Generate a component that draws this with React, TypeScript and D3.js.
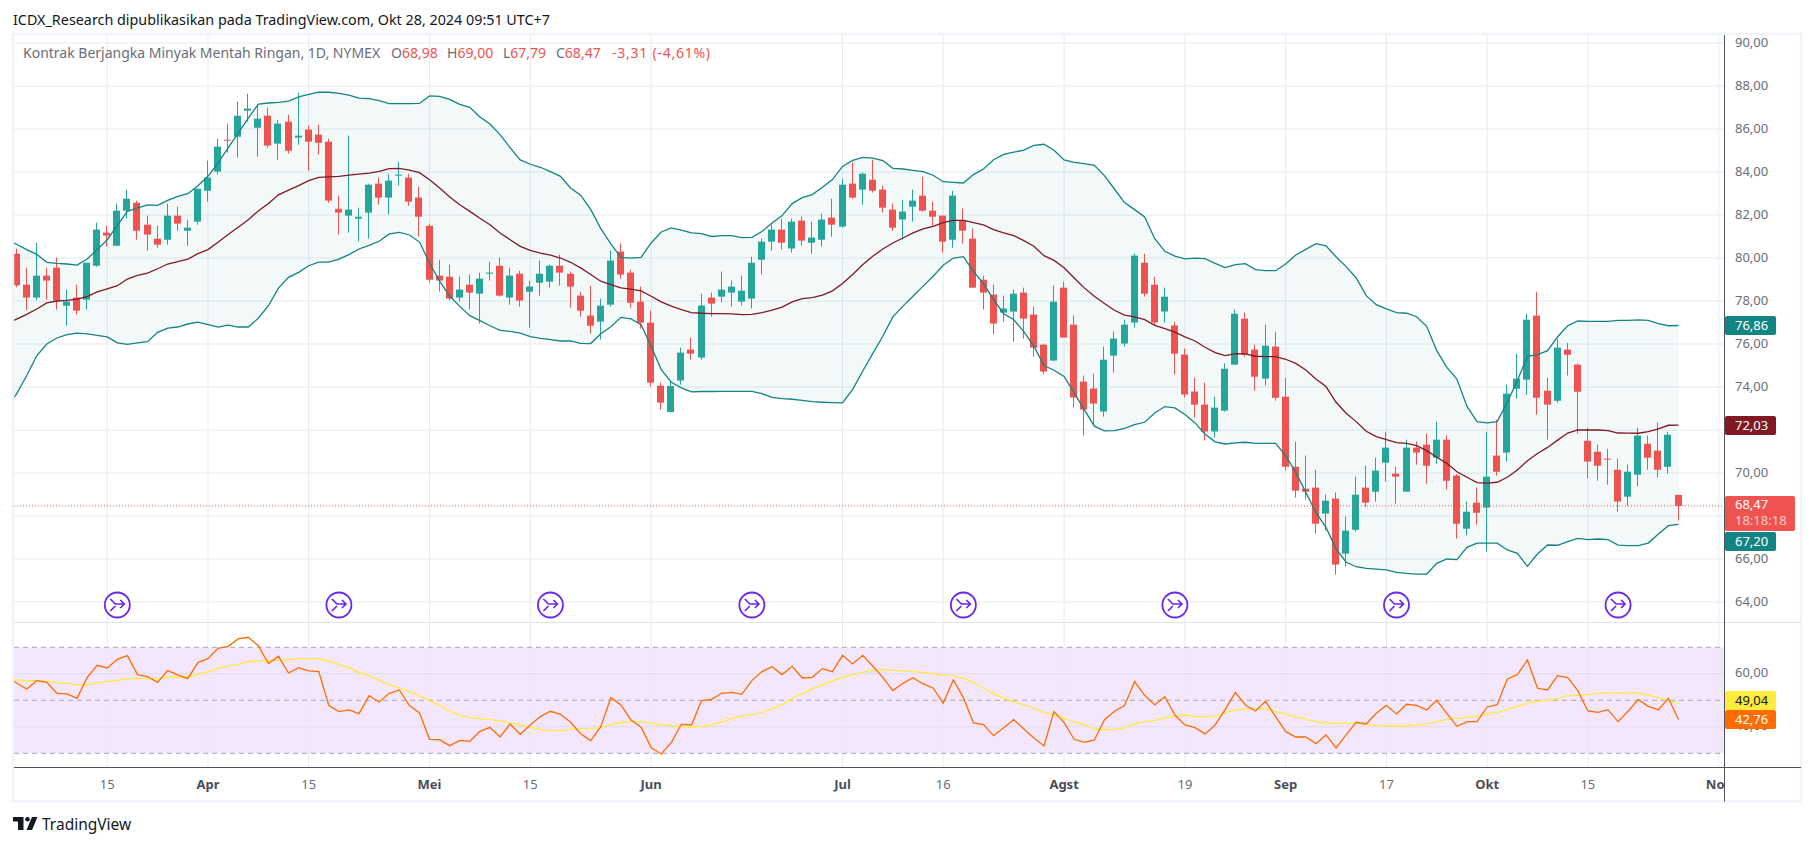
import React, { useEffect, useRef } from 'react';
import * as d3 from 'd3';

// daily bars
const opens = [
  80.20,78.76,78.16,79.18,79.55,77.78,78.16,78.06,79.64,81.18,80.57,82.20,82.57,81.55,80.90,80.85,81.97,81.27,81.69,83.13,
  84.02,85.50,85.64,86.85,86.06,86.62,85.32,86.34,85.60,85.97,85.74,85.41,82.29,81.97,81.83,82.11,83.46,82.81,83.83,83.74,
  82.81,81.50,79.18,79.13,78.16,78.76,78.34,79.27,79.64,78.16,79.27,78.43,78.85,78.90,79.64,79.27,78.25,77.32,77.04,77.83,
  80.30,79.32,77.97,76.99,74.06,72.84,74.30,75.74,75.37,78.16,78.20,78.39,77.97,78.11,79.92,80.76,81.32,80.44,81.74,80.71,
  80.85,81.88,81.46,83.46,83.18,83.64,83.18,82.25,81.79,82.39,82.90,82.20,81.97,80.85,81.74,80.90,78.99,78.30,77.46,77.51,
  78.39,77.37,75.97,75.23,78.62,76.90,74.25,73.93,72.86,75.46,76.02,77.00,79.78,78.76,77.51,76.86,75.51,73.79,73.18,71.93,
  72.90,75.04,77.18,75.74,74.39,75.88,73.55,70.29,69.27,69.32,68.11,68.81,66.25,67.36,69.32,69.13,70.48,69.97,69.13,71.18,
  71.32,70.71,71.55,69.88,67.41,68.62,68.39,70.81,70.95,73.92,74.34,77.32,73.83,73.36,75.74,75.04,71.50,70.99,70.67,70.15,
  68.90,69.92,71.36,71.04,70.29,68.98,
];
const highs = [
  80.43,79.55,80.70,79.55,80.02,78.53,78.76,79.78,81.64,81.50,82.53,83.18,82.67,81.97,81.50,82.53,82.39,81.78,83.22,84.53,
  85.55,86.25,87.27,87.64,87.13,86.99,86.43,86.67,87.69,86.16,86.20,85.55,82.90,85.69,82.34,83.46,83.74,83.88,84.48,83.92,
  83.32,81.60,79.92,79.69,79.13,79.23,79.32,79.83,80.02,79.55,79.41,78.95,79.88,79.69,80.16,79.36,78.43,78.71,78.11,80.34,
  80.67,79.46,78.67,77.55,74.20,74.28,75.83,76.30,78.34,78.39,79.37,78.95,79.18,80.06,80.90,81.55,81.83,81.83,81.93,81.69,
  82.06,82.76,83.69,84.44,83.97,84.57,83.37,82.53,82.71,83.18,83.78,82.62,81.97,83.13,82.30,81.37,79.18,78.76,78.25,78.53,
  78.62,77.74,76.02,78.72,78.90,77.32,74.53,74.62,75.88,76.58,77.13,80.20,80.20,79.13,78.62,77.04,75.79,74.44,74.20,73.55,
  75.09,77.60,77.46,75.97,76.90,76.57,74.43,71.46,70.81,70.15,68.99,69.09,67.97,69.83,70.34,70.71,71.92,70.29,71.55,71.46,
  71.83,72.39,71.74,69.95,68.67,69.32,71.92,72.48,74.11,75.55,77.41,78.43,74.43,76.25,76.06,75.09,72.11,71.32,71.13,70.67,
  70.39,72.11,71.74,72.34,71.92,69.00,
];
const lows = [
  78.64,77.57,78.03,78.06,77.60,76.85,77.37,77.60,79.59,80.53,80.57,81.83,80.85,80.34,80.48,80.62,81.27,80.57,81.55,82.62,
  83.88,84.90,84.67,86.34,84.71,85.13,84.57,84.85,85.27,84.06,84.81,82.57,81.09,81.18,80.76,80.90,82.48,82.02,83.37,82.43,
  81.00,78.85,78.43,78.02,77.97,77.60,76.95,78.95,78.20,77.83,77.74,76.76,78.25,78.62,78.71,77.69,77.27,76.48,76.20,77.74,
  79.04,77.69,76.71,74.02,72.95,72.80,74.11,75.27,75.27,77.27,77.93,77.74,77.79,77.65,79.23,80.34,80.39,80.25,80.58,80.20,
  80.53,80.99,81.41,82.76,82.48,83.04,82.11,81.27,80.85,81.69,82.16,81.51,80.25,80.48,80.67,78.62,77.60,76.44,77.04,76.11,
  76.25,75.41,74.62,75.23,76.30,73.04,71.74,72.25,72.62,74.67,75.88,76.76,78.20,76.86,77.00,74.58,73.51,72.58,71.51,71.65,
  72.85,75.04,75.41,73.83,74.06,73.36,70.11,68.85,68.76,67.18,67.32,65.27,65.64,67.27,68.43,68.67,69.60,68.57,69.13,70.39,
  69.50,70.43,69.22,66.95,67.09,67.60,66.34,69.88,70.53,73.46,73.64,72.71,71.55,73.27,74.53,71.83,69.74,69.64,69.46,68.20,
  68.48,69.39,70.15,69.78,69.97,67.79,
];
const closes = [
  78.73,78.16,79.18,78.95,78.02,77.97,77.55,79.78,81.32,81.04,82.20,82.76,81.27,81.09,80.62,81.97,81.60,81.41,83.22,83.74,
  85.18,85.46,86.62,86.95,86.48,85.23,86.25,84.99,85.69,85.41,85.36,82.67,82.11,82.25,81.92,83.41,82.81,83.60,83.88,82.62,
  81.92,78.99,78.95,78.11,78.53,78.39,79.04,79.32,78.25,79.18,78.02,78.67,79.27,79.64,79.32,78.67,77.55,76.85,77.78,79.88,
  79.23,77.92,76.99,74.20,73.27,74.05,75.60,75.55,77.79,77.88,78.53,78.67,78.48,79.78,80.76,81.32,80.71,81.69,80.81,80.95,
  81.79,81.55,83.41,82.81,83.92,83.13,82.34,81.41,82.16,82.67,82.20,81.92,80.76,82.90,81.27,78.62,78.39,76.95,77.65,78.34,
  77.18,75.83,74.72,77.97,76.30,73.51,72.95,73.23,75.27,76.25,76.90,80.11,78.34,77.00,78.20,75.55,73.65,73.18,71.93,73.04,
  74.85,77.41,75.50,74.48,75.92,73.50,70.29,69.18,69.13,67.64,68.71,65.74,67.32,68.99,68.62,70.11,71.18,69.83,71.18,70.95,
  70.34,71.55,69.64,67.64,68.20,68.15,69.83,70.06,73.69,74.39,77.13,73.50,73.18,75.83,75.50,73.78,70.53,70.34,70.62,68.67,
  70.06,71.74,70.71,70.15,71.78,68.47,
];

// bollinger bands, the first value belongs to the bar just left of the plot
const bbUpper = [
  80.88,
  80.64,80.39,80.17,79.80,79.75,79.72,79.67,79.95,80.39,80.85,81.52,82.17,82.33,82.47,82.45,82.68,82.87,82.99,83.36,83.80,
  84.42,85.12,85.81,86.51,87.16,87.21,87.24,87.30,87.49,87.61,87.71,87.71,87.66,87.58,87.44,87.41,87.32,87.18,87.18,87.18,
  87.19,87.54,87.52,87.38,87.15,87.01,86.56,86.23,85.74,85.13,84.56,84.36,84.22,84.02,83.80,83.26,82.92,82.26,81.37,80.66,
  80.03,79.99,80.03,80.70,81.21,81.40,81.30,81.17,81.13,81.00,81.04,81.04,80.95,80.96,81.23,81.63,81.97,82.53,82.81,82.95,
  83.29,83.65,84.26,84.54,84.68,84.65,84.53,84.17,84.14,84.08,84.02,83.85,83.55,83.52,83.49,83.88,84.14,84.57,84.82,84.92,
  85.02,85.24,85.29,85.01,84.56,84.45,84.39,84.31,83.83,83.21,82.58,82.25,81.91,80.90,80.31,80.09,79.96,79.99,79.97,79.75,
  79.55,79.69,79.74,79.46,79.41,79.41,79.72,80.14,80.40,80.67,80.57,80.06,79.60,79.07,78.25,77.83,77.63,77.46,77.43,77.27,
  76.82,75.69,74.91,74.37,73.10,72.39,72.33,72.39,73.29,74.30,75.43,75.51,75.69,76.34,76.85,77.07,77.05,77.05,77.05,77.10,
  77.10,77.12,77.10,76.95,76.85,76.86,
];
const bbBasis = [
  76.93,
  77.16,77.38,77.63,77.91,78.00,78.03,78.09,78.20,78.42,78.56,78.71,79.02,79.19,79.30,79.50,79.72,79.83,79.95,80.20,80.39,
  80.73,81.09,81.43,81.78,82.19,82.53,82.94,83.16,83.37,83.60,83.75,83.77,83.80,83.85,83.90,83.95,84.03,84.16,84.17,84.09,
  83.97,83.64,83.26,82.84,82.48,82.17,81.85,81.55,81.16,80.85,80.54,80.36,80.23,80.13,80.00,79.80,79.54,79.23,78.92,78.76,
  78.61,78.55,78.47,78.22,77.96,77.76,77.60,77.46,77.43,77.41,77.41,77.40,77.37,77.38,77.46,77.58,77.72,77.96,78.11,78.16,
  78.27,78.47,78.81,79.23,79.69,80.08,80.42,80.70,80.93,81.17,81.35,81.47,81.65,81.75,81.75,81.65,81.54,81.32,81.17,81.04,
  80.81,80.55,80.11,79.89,79.55,79.07,78.61,78.22,77.88,77.57,77.34,77.26,77.13,76.87,76.72,76.55,76.33,76.14,75.85,75.60,
  75.46,75.55,75.54,75.43,75.41,75.41,75.29,75.10,74.79,74.37,74.02,73.29,72.78,72.39,71.94,71.69,71.55,71.41,71.38,71.27,
  71.04,70.73,70.45,70.06,69.80,69.55,69.53,69.57,69.80,70.14,70.57,70.91,71.19,71.53,71.86,72.00,72.00,72.00,71.97,71.86,
  71.85,71.85,71.92,72.05,72.22,72.23,
];
const bbLower = [
  73.03,
  73.68,74.52,75.45,76.00,76.28,76.44,76.51,76.47,76.40,76.33,76.05,75.98,76.05,76.11,76.54,76.74,76.79,76.93,77.02,76.90,
  76.79,76.88,76.79,76.79,77.20,77.78,78.60,79.10,79.33,79.64,79.81,79.81,79.95,80.16,80.42,80.59,80.78,81.12,81.19,81.07,
  80.74,79.77,78.92,78.22,77.75,77.32,77.09,76.85,76.63,76.59,76.51,76.34,76.26,76.20,76.14,76.14,76.03,76.02,76.48,76.80,
  77.24,77.17,76.90,75.90,74.81,74.22,73.96,73.77,73.79,73.79,73.80,73.80,73.80,73.80,73.69,73.52,73.46,73.43,73.38,73.32,
  73.29,73.27,73.26,73.88,74.73,75.55,76.36,77.26,77.76,78.22,78.69,79.15,79.66,80.00,80.06,79.38,78.81,78.06,77.41,77.13,
  76.58,75.90,75.00,74.78,74.49,73.73,72.95,72.18,71.96,71.97,72.08,72.25,72.36,72.79,73.09,73.03,72.72,72.33,71.80,71.45,
  71.35,71.40,71.43,71.38,71.38,71.38,70.81,70.03,69.10,68.17,67.47,66.47,65.85,65.64,65.56,65.53,65.49,65.38,65.33,65.30,
  65.30,65.80,66.00,65.97,66.54,66.74,66.74,66.74,66.42,66.26,65.66,66.23,66.65,66.64,66.81,66.96,66.90,66.93,66.90,66.65,
  66.62,66.62,66.74,67.16,67.55,67.61,
];

// rsi pane, same leading bar as the bands
const rsi = [
  59.05,
  56.54,54.28,57.42,56.79,52.64,52.39,50.75,58.55,63.21,62.20,65.47,66.85,59.69,58.93,56.79,61.19,59.56,58.17,64.21,65.72,
  69.62,70.38,73.14,73.77,70.63,63.84,66.60,60.31,62.33,61.07,60.82,47.99,45.72,46.35,44.97,51.76,49.37,52.64,53.90,47.99,
  45.22,35.28,35.15,32.89,34.90,34.53,38.30,39.81,36.16,41.07,37.17,40.69,43.84,45.85,44.72,41.70,37.33,34.78,40.06,51.00,
  48.24,42.58,39.81,32.14,29.75,34.02,40.94,40.69,49.87,50.37,52.64,53.02,52.26,57.42,60.82,62.70,59.69,62.83,58.43,58.68,
  61.95,60.82,66.98,63.71,66.98,62.95,58.68,53.65,56.41,58.55,56.16,54.65,48.87,57.67,51.00,41.44,40.82,36.66,39.68,42.70,
  39.18,35.78,32.76,45.72,41.57,35.28,34.15,35.03,42.58,45.85,47.99,57.04,51.88,48.24,51.38,44.46,40.69,39.68,37.33,40.69,
  46.60,53.02,48.24,45.97,49.62,43.84,38.17,36.16,36.16,33.65,36.92,32.01,36.92,41.70,41.07,45.09,48.11,44.84,48.49,48.11,
  46.35,50.00,45.09,40.19,41.95,41.95,47.48,48.36,58.05,59.69,65.22,54.53,53.90,59.31,58.55,53.65,45.97,45.47,46.48,41.95,
  45.85,50.25,47.73,46.48,50.75,42.76,
];
const rsiMa = [
  57.90,
  57.67,57.42,57.42,57.17,56.67,56.41,55.91,55.79,56.54,57.04,57.54,58.17,58.30,58.17,58.30,58.68,58.80,59.05,59.81,60.69,
  62.07,62.95,63.58,64.46,64.84,64.97,65.09,65.34,65.72,65.72,65.72,64.72,63.58,62.33,60.44,59.18,57.54,55.91,54.65,53.39,
  51.76,49.87,47.99,46.10,44.34,43.46,43.08,42.70,42.20,41.44,40.82,39.81,39.05,38.68,38.68,39.05,39.31,39.43,39.68,40.82,
  41.70,41.95,41.95,41.32,40.82,40.31,40.06,39.93,40.19,40.82,41.82,43.21,44.09,44.59,45.34,46.85,48.36,50.63,52.51,54.40,
  55.79,57.30,58.68,59.69,60.57,61.19,61.57,61.32,61.07,60.82,60.57,60.06,59.31,59.18,58.30,56.79,54.53,52.51,50.75,49.37,
  48.24,47.10,45.34,44.59,43.21,41.82,40.82,39.18,38.80,39.05,39.56,41.07,41.95,42.45,43.33,43.96,44.46,43.96,43.71,44.09,
  45.34,46.35,46.73,46.73,46.73,45.72,44.84,43.84,42.83,42.07,41.70,41.32,41.32,41.32,40.94,40.44,40.31,40.31,40.31,40.56,
  41.07,42.07,42.70,43.21,43.46,43.96,44.84,45.47,46.60,47.73,48.87,49.62,50.00,50.75,51.76,51.89,52.14,52.51,52.77,52.77,
  52.64,52.77,52.01,51.13,49.75,49.04,
];

const priceTicks = [90, 88, 86, 84, 82, 80, 78, 76, 74, 72, 70, 68, 66, 64];
// these two sit fully behind the value tags in the picture
const hiddenPriceLabels = [72, 68];
const rsiGridTicks = [60, 40];
const rsiLevels = [70, 50, 30];
const timeTickBars = [9, 19, 29, 41, 51, 63, 82, 92, 104, 116, 126, 136, 146, 156, 169];
const timeTickLabels = ['15', 'Apr', '15', 'Mei', '15', 'Jun', 'Jul', '16', 'Agst', '19', 'Sep', '17', 'Okt', '15', 'Nov'];
const monthLabels = ['Apr', 'Mei', 'Jun', 'Jul', 'Agst', 'Sep', 'Okt', 'Nov'];
const rollBars = [10, 32, 53, 73, 94, 115, 137, 159];

const titleText = 'ICDX_Research dipublikasikan pada TradingView.com, Okt 28, 2024 09:51 UTC+7';
const seriesName = 'Kontrak Berjangka Minyak Mentah Ringan, 1D, NYMEX';
const legendPairs = [['O', '68,98'], ['H', '69,00'], ['L', '67,79'], ['C', '68,47']];
const legendChange = '-3,31 (-4,61%)';

const width = 1814;
const height = 846;
const font = '"Noto Sans", sans-serif';
const plotLeft = 14;
const axisX = 1724.5;
const frameRight = 1801;
const paneSplit = 622.5;
const timeAxisY = 767.5;
const frameBottom = 801.5;

const green = '#26a69a';
const red = '#ef5350';
const bandColor = '#138484';
const basisColor = '#801922';
const gridColor = '#e4ebf1';

export default () => {
  const svgRef = useRef<SVGSVGElement>(null);

  useEffect(() => {
    if (!svgRef.current) {
      return;
    }
    const svg = d3.select(svgRef.current);
    svg.selectAll('*').remove();

    const x = d3.scaleLinear().domain([0, 165]).range([16.6, 1678.5]);
    const y = d3.scaleLinear().domain([90, 64]).range([43, 602]);
    const yRsi = d3.scaleLinear().domain([70, 30]).range([647.3, 753.3]);
    const bars = d3.range(closes.length);
    // index into the indicator arrays, bar -1 is the leading value
    const lineBars = d3.range(-1, closes.length);

    svg.append('rect').attr('width', width).attr('height', height).attr('fill', '#fff');

    svg.append('clipPath').attr('id', 'plot-clip')
      .append('rect')
      .attr('x', plotLeft)
      .attr('y', 35)
      .attr('width', axisX - plotLeft)
      .attr('height', timeAxisY - 35);

    // rsi band background goes under the grid
    svg.append('rect')
      .attr('x', plotLeft)
      .attr('y', yRsi(70))
      .attr('width', axisX - plotLeft)
      .attr('height', yRsi(30) - yRsi(70))
      .attr('fill', '#f4e6fd');

    const grid = svg.append('g').attr('stroke-width', 1);
    grid.selectAll('line.v')
      .data(timeTickBars)
      .enter()
      .append('line')
      .attr('x1', d => x(d))
      .attr('x2', d => x(d))
      .attr('y1', 35)
      .attr('y2', timeAxisY)
      .attr('stroke', gridColor);
    grid.selectAll('line.h')
      .data(priceTicks)
      .enter()
      .append('line')
      .attr('x1', plotLeft)
      .attr('x2', axisX)
      .attr('y1', d => y(d))
      .attr('y2', d => y(d))
      .attr('stroke', gridColor);
    grid.selectAll('line.r')
      .data(rsiGridTicks)
      .enter()
      .append('line')
      .attr('x1', plotLeft)
      .attr('x2', axisX)
      .attr('y1', d => yRsi(d))
      .attr('y2', d => yRsi(d))
      .attr('stroke', '#dfdcf0');

    svg.append('g').selectAll('line')
      .data(rsiLevels)
      .enter()
      .append('line')
      .attr('x1', plotLeft)
      .attr('x2', axisX)
      .attr('y1', d => yRsi(d))
      .attr('y2', d => yRsi(d))
      .attr('stroke', '#a9a7b2')
      .attr('stroke-dasharray', '5,4');

    const plot = svg.append('g').attr('clip-path', 'url(#plot-clip)');

    // bollinger
    const bandArea = d3.area<number>()
      .x(d => x(d))
      .y0(d => y(bbLower[d + 1]))
      .y1(d => y(bbUpper[d + 1]));
    plot.append('path').attr('d', bandArea(lineBars)).attr('fill', bandColor).attr('fill-opacity', 0.05);

    const drawLine = (
      values: number[],
      scale: d3.ScaleLinear<number, number>,
      color: string,
      strokeWidth = 1.3
    ) => {
      const line = d3.line<number>()
        .x(d => x(d))
        .y(d => scale(values[d + 1]));
      plot.append('path')
        .attr('d', line(lineBars))
        .attr('fill', 'none')
        .attr('stroke', color)
        .attr('stroke-width', strokeWidth);
    };

    // candles
    const candles = plot.append('g');
    candles.selectAll('line')
      .data(bars)
      .enter()
      .append('line')
      .attr('x1', d => Math.round(x(d)) - 0.5)
      .attr('x2', d => Math.round(x(d)) - 0.5)
      .attr('y1', d => y(highs[d]))
      .attr('y2', d => y(lows[d]))
      .attr('stroke', d => (closes[d] >= opens[d] ? green : red))
      .attr('stroke-width', 1);
    candles.selectAll('rect')
      .data(bars)
      .enter()
      .append('rect')
      .attr('x', d => Math.round(x(d)) - 4)
      .attr('width', 7)
      .attr('y', d => y(Math.max(opens[d], closes[d])))
      .attr('height', d => Math.max(1, Math.abs(y(opens[d]) - y(closes[d]))))
      .attr('fill', d => (closes[d] >= opens[d] ? green : red));

    drawLine(bbUpper, y, bandColor);
    drawLine(bbLower, y, bandColor);
    drawLine(bbBasis, y, basisColor);

    // last price line
    svg.append('line')
      .attr('x1', plotLeft)
      .attr('x2', axisX)
      .attr('y1', y(68.47))
      .attr('y2', y(68.47))
      .attr('stroke', red)
      .attr('stroke-dasharray', '1,2');

    // rsi
    drawLine(rsiMa, yRsi, '#ffeb3b');
    drawLine(rsi, yRsi, '#ff6d00');

    // contract roll markers
    const roll = svg.append('g').selectAll('g')
      .data(rollBars)
      .enter()
      .append('g')
      .attr('transform', d => `translate(${x(d)},605)`)
      .attr('fill', 'none')
      .attr('stroke', '#6a26f2');
    roll.append('circle').attr('r', 12.5).attr('fill', '#fff').attr('stroke-width', 1.8);
    roll.append('path')
      .attr('d', 'M-7,-6 L-2,-1 H7 M3,-5 L7,-1 L3,3 M-7,6 L-2,1')
      .attr('stroke-width', 1.7);

    // frame and axes
    svg.append('rect')
      .attr('x', 13)
      .attr('y', 34)
      .attr('width', frameRight - 13)
      .attr('height', frameBottom - 34)
      .attr('fill', 'none')
      .attr('stroke', '#f0f3fa')
      .attr('stroke-width', 2.5);
    svg.append('line')
      .attr('x1', plotLeft)
      .attr('x2', frameRight)
      .attr('y1', paneSplit)
      .attr('y2', paneSplit)
      .attr('stroke', '#e0e3eb');
    svg.append('line')
      .attr('x1', plotLeft)
      .attr('x2', frameRight)
      .attr('y1', timeAxisY)
      .attr('y2', timeAxisY)
      .attr('stroke', '#50535e');
    svg.append('line')
      .attr('x1', axisX)
      .attr('x2', axisX)
      .attr('y1', 35)
      .attr('y2', frameBottom)
      .attr('stroke', '#50535e');

    const textStyle = (sel: d3.Selection<SVGTextElement, any, any, any>, size = 13) => sel
      .attr('font-family', font)
      .attr('font-size', size);

    // price axis
    svg.append('g').selectAll('text')
      .data(priceTicks.filter(d => !hiddenPriceLabels.includes(d)))
      .enter()
      .append('text')
      .text(d => d3.format('.2f')(d).replace('.', ','))
      .attr('x', 1735)
      .attr('y', d => y(d) + 3.5)
      .attr('fill', '#6a6d78')
      .call(textStyle);
    svg.append('text')
      .text('60,00')
      .attr('x', 1735)
      .attr('y', yRsi(60) + 3.5)
      .attr('fill', '#6a6d78')
      .call(textStyle);
    svg.append('text')
      .text('40,00')
      .attr('x', 1735)
      .attr('y', yRsi(40) + 3.5)
      .attr('fill', '#6a6d78')
      .call(textStyle);

    // time axis, the last label is cut by the price axis
    svg.append('clipPath').attr('id', 'time-clip')
      .append('rect')
      .attr('x', 0)
      .attr('y', timeAxisY)
      .attr('width', axisX)
      .attr('height', 40);
    svg.append('g').attr('clip-path', 'url(#time-clip)').selectAll('text')
      .data(timeTickBars)
      .enter()
      .append('text')
      .text((d, i) => timeTickLabels[i])
      .attr('x', d => x(d))
      .attr('y', 789)
      .attr('text-anchor', 'middle')
      .attr('fill', (d, i) => (monthLabels.includes(timeTickLabels[i]) ? '#4a4d58' : '#6a6d78'))
      .attr('font-weight', (d, i) => (monthLabels.includes(timeTickLabels[i]) ? 700 : 400))
      .call(textStyle);

    // value tags on the price axis
    const tag = (top: number, h: number, w: number, color: string, labels: [string, number, string][]) => {
      svg.append('rect')
        .attr('x', axisX + 0.5)
        .attr('y', top)
        .attr('width', w)
        .attr('height', h)
        .attr('rx', 2)
        .attr('fill', color);
      labels.forEach(([label, baseline, fill]) => {
        svg.append('text')
          .text(label)
          .attr('x', 1735)
          .attr('y', baseline)
          .attr('fill', fill)
          .call(textStyle);
      });
    };
    tag(316, 19, 51, bandColor, [['76,86', 330, '#fff']]);
    tag(416, 19, 51, basisColor, [['72,03', 430, '#fff']]);
    tag(496, 35, 70, red, [['68,47', 509, '#fff'], ['18:18:18', 524.5, '#fcc']]);
    tag(532, 19, 51, bandColor, [['67,20', 546, '#fff']]);
    tag(691, 19, 51, '#ffeb3b', [['49,04', 705, '#131722']]);
    tag(710, 19, 51, '#ff6d00', [['42,76', 724, '#fff']]);

    // title and legend
    svg.append('text')
      .text(titleText)
      .attr('x', 13)
      .attr('y', 25)
      .attr('fill', '#131722')
      .attr('textLength', 537)
      .attr('lengthAdjust', 'spacingAndGlyphs')
      .call(textStyle, 14.5);
    svg.append('text')
      .text(seriesName)
      .attr('x', 23)
      .attr('y', 58)
      .attr('fill', '#6a6d78')
      .call(textStyle, 14);

    const legendX = [391, 447, 503, 556];
    legendPairs.forEach(([key, value], i) => {
      const t = svg.append('text')
        .attr('x', legendX[i])
        .attr('y', 58)
        .call(textStyle, 14);
      t.append('tspan').text(key).attr('fill', '#6a6d78');
      t.append('tspan').text(value).attr('fill', red);
    });
    svg.append('text')
      .text(legendChange)
      .attr('x', 612)
      .attr('y', 58)
      .attr('fill', red)
      .attr('textLength', 98)
      .attr('lengthAdjust', 'spacing')
      .call(textStyle, 14);

    // logo
    const logo = svg.append('g').attr('fill', '#131722');
    logo.append('path').attr('d', 'M13,817 H23.5 V830 H18 V821.5 H13 Z');
    logo.append('circle').attr('cx', 27.5).attr('cy', 819.3).attr('r', 2.3);
    logo.append('path').attr('d', 'M32,817 H37.5 L32,830 H26.5 Z');
    svg.append('text')
      .text('TradingView')
      .attr('x', 42)
      .attr('y', 830)
      .attr('fill', '#131722')
      .call(textStyle, 15.5);
  }, []);

  return (
    <svg ref={svgRef} width={width} height={height} style={{ position: 'fixed', left: 0, top: 0 }} />
  );
};
